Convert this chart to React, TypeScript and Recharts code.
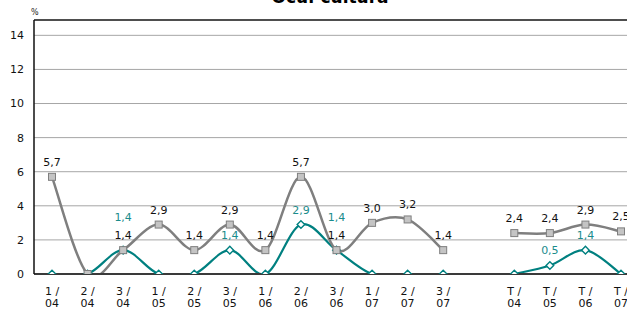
import React from 'react';
import { LineChart, Line, XAxis, YAxis, CartesianGrid, ReferenceLine } from 'recharts';

const categories = ['1 /\n04', '2 /\n04', '3 /\n04', '1 /\n05', '2 /\n05', '3 /\n05', '1 /\n06', '2 /\n06', '3 /\n06', '1 /\n07', '2 /\n07', '3 /\n07', '', 'T /\n04', 'T /\n05', 'T /\n06', 'T /\n07'];
const grayValues: (number | null)[] = [5.7, 0, 1.4, 2.9, 1.4, 2.9, 1.4, 5.7, 1.4, 3.0, 3.2, 1.4, null, 2.4, 2.4, 2.9, 2.5];
const tealValues: (number | null)[] = [0, 0, 1.4, 0, 0, 1.4, 0, 2.9, 1.4, 0, 0, 0, null, 0, 0.5, 1.4, 0];
const yTicks = [0, 2, 4, 6, 8, 10, 12, 14];
const yMax = 14.9;

const data = categories.map((c, i) => ({ cat: c, gray: grayValues[i], teal: tealValues[i] }));

const FONT = '"DejaVu Sans", Verdana, sans-serif';
const GRAY = '#7f7f7f';
const TEAL = '#008080';

// Excel-like smoothing (uniform Catmull-Rom as cubic Bezier)
function smoothCurve(context: any) {
  let pts: [number, number][] = [];
  return {
    areaStart() {},
    areaEnd() {},
    lineStart() {
      pts = [];
    },
    lineEnd() {
      if (pts.length === 0) return;
      context.moveTo(pts[0][0], pts[0][1]);
      if (pts.length === 1) {
        context.lineTo(pts[0][0], pts[0][1]);
        return;
      }
      for (let i = 0; i < pts.length - 1; i++) {
        const p0 = pts[i - 1] || pts[i];
        const p1 = pts[i];
        const p2 = pts[i + 1];
        const p3 = pts[i + 2] || p2;
        const c1x = p1[0] + (p2[0] - p0[0]) / 6;
        const c1y = p1[1] + (p2[1] - p0[1]) / 6;
        const c2x = p2[0] - (p3[0] - p1[0]) / 6;
        const c2y = p2[1] - (p3[1] - p1[1]) / 6;
        context.bezierCurveTo(c1x, c1y, c2x, c2y, p2[0], p2[1]);
      }
    },
    point(x: number, y: number) {
      pts.push([+x, +y]);
    },
  };
}

const fmt = (v: number) => v.toFixed(1).replace('.', ',');

const GrayDot = (props: any) => {
  const { cx, cy, index } = props;
  if (cx == null || cy == null || props.value == null) return <g key={`gd-${index}`} />;
  return <rect key={`gd-${index}`} x={cx - 3.5} y={cy - 3.5} width={7} height={7} fill="#c4c4c4" stroke={GRAY} strokeWidth={1} />;
};

const TealDot = (props: any) => {
  const { cx, cy, index } = props;
  if (cx == null || cy == null || props.value == null) return <g key={`td-${index}`} />;
  const s = 3.8;
  return (
    <polygon
      key={`td-${index}`}
      points={`${cx},${cy - s} ${cx + s},${cy} ${cx},${cy + s} ${cx - s},${cy}`}
      fill="#ffffff"
      stroke={TEAL}
      strokeWidth={1.4}
    />
  );
};

const GrayLabel = (props: any) => {
  const { x, y, value, index } = props;
  if (value == null || value === 0) return <g key={`gl-${index}`} />;
  return (
    <text key={`gl-${index}`} x={x} y={y - 11} textAnchor="middle" fontFamily={FONT} fontSize={11} fill="#111">
      {fmt(value)}
    </text>
  );
};

const TealLabel = (props: any) => {
  const { x, y, value, index } = props;
  if (value == null || value === 0) return <g key={`tl-${index}`} />;
  const clash = grayValues[index] === value;
  return (
    <text key={`tl-${index}`} x={x} y={y - (clash ? 29 : 11)} textAnchor="middle" fontFamily={FONT} fontSize={11} fill="#1a8c8c">
      {fmt(value)}
    </text>
  );
};

const XTick = (props: any) => {
  const { x, y, payload } = props;
  const parts = String(payload.value || '').split('\n');
  return (
    <g>
      {parts.map((p, i) => (
        <text key={i} x={x} y={y + 19 + i * 12} textAnchor="middle" fontFamily={FONT} fontSize={11} fill="#111">
          {p}
        </text>
      ))}
    </g>
  );
};

export default function App() {
  return (
    <div style={{ position: 'fixed', left: 0, top: 0, width: 627, height: 309, overflow: 'hidden', background: '#fff' }}>
      <div
        style={{
          position: 'absolute',
          left: 230,
          width: 200,
          top: -11,
          textAlign: 'center',
          fontFamily: FONT,
          fontWeight: 'bold',
          fontSize: 17,
          lineHeight: '17px',
          color: '#000',
          whiteSpace: 'nowrap',
        }}
      >
        Ocu. cultura
      </div>
      <div style={{ position: 'absolute', left: 31, top: 9, fontFamily: FONT, fontSize: 8, lineHeight: '8px', color: '#222' }}>%</div>
      <LineChart width={640} height={309} data={data} margin={{ top: 20, right: 1, bottom: 0, left: 0 }}>
        <CartesianGrid horizontal vertical={false} stroke="#a6a6a6" strokeWidth={1} />
        <XAxis
          dataKey="cat"
          type="category"
          height={35}
          interval={0}
          padding={{ left: 18, right: 18 }}
          tickLine={false}
          tickSize={0}
          axisLine={{ stroke: '#3a3a3a', strokeWidth: 2 }}
          tick={<XTick />}
        />
        <YAxis
          width={34}
          domain={[0, yMax]}
          ticks={yTicks}
          tickLine={false}
          tickSize={0}
          tickMargin={10}
          axisLine={{ stroke: '#111', strokeWidth: 1.5 }}
          tick={{ fontFamily: FONT, fontSize: 11, fill: '#111' }}
          allowDataOverflow
        />
        <ReferenceLine y={yMax} stroke="#222" strokeWidth={1.5} />
        <Line
          dataKey="teal"
          type={smoothCurve as any}
          stroke={TEAL}
          strokeWidth={2.2}
          dot={TealDot}
          activeDot={false}
          label={TealLabel}
          connectNulls={false}
          isAnimationActive={false}
        />
        <Line
          dataKey="gray"
          type={smoothCurve as any}
          stroke={GRAY}
          strokeWidth={2.5}
          dot={GrayDot}
          activeDot={false}
          label={GrayLabel}
          connectNulls={false}
          isAnimationActive={false}
        />
      </LineChart>
    </div>
  );
}
